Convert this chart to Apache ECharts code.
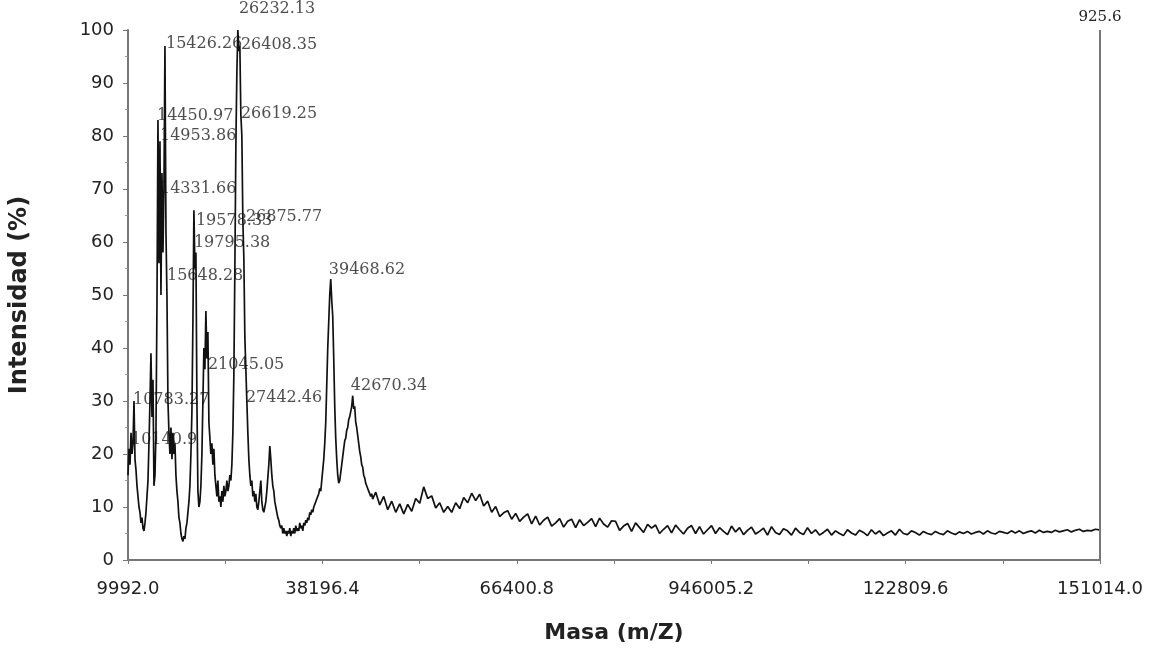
<!DOCTYPE html>
<html>
<head>
<meta charset="utf-8">
<title>Espectro de masas</title>
<script src="https://cdn.jsdelivr.net/npm/echarts@6/dist/echarts.min.js"></script>
<style>
html,body{margin:0;padding:0;background:#fff;}
#main{width:1149px;height:651px;}
</style>
</head>
<body>
<div id="main"></div>
<script>
// eje X (masa): marcas y etiquetas tal como aparecen en la figura
var xMin = 9992.0, xMax = 151014.0;
var xTickValues = [9992.0, 24094.2, 38196.4, 52298.6, 66400.8, 80503.0, 94605.2, 108707.4, 122809.6, 136911.8, 151014.0];
var xLabelValues = [9992.0, 38196.4, 66400.8, 94605.2, 122809.6, 151014.0];
var xLabelTexts = ['9992.0', '38196.4', '66400.8', '946005.2', '122809.6', '151014.0'];

// espectro, zona de picos (masa inicial y paso de muestreo)
var peakStart = 9992, peakStep = 144.9;
var peakIntensity = [
	16, 21, 18, 24, 20, 22, 30, 19, 17, 14,
	12, 10, 9, 7, 8, 6, 5.5, 7, 9, 12,
	15, 22, 30, 39, 27, 34, 14, 16, 24, 48,
	83, 56, 79, 50, 73, 58, 70, 97, 62, 50,
	30, 24, 20, 25, 19, 24, 20, 22, 16, 13,
	11, 8, 7, 5, 4, 3.5, 4.5, 4, 6, 7,
	9, 11, 14, 20, 28, 45, 66, 55, 58, 30,
	13, 10, 11, 14, 20, 30, 40, 36, 47, 38,
	43, 26, 23, 20, 22, 18, 21, 16, 14, 12,
	15, 11, 12, 10, 13, 11, 14, 12, 13, 15,
	13, 14, 16, 15, 18, 24, 35, 55, 78, 92,
	100, 96, 97, 84, 80, 64, 57, 42, 36, 30,
	24, 19, 16, 14, 15, 12, 13, 11, 12.5, 10,
	9.5, 11, 13, 15, 11, 9.5, 9, 10, 11, 13,
	15.5, 18, 21.5, 19, 16, 14, 13, 11, 10, 9,
	8, 7.5, 6.5, 6, 6.5, 5, 6, 5, 5.5, 4.5,
	5.5, 5, 6, 4.5, 5.5, 5, 6, 5, 6.5, 5.5,
	6, 5.5, 7, 6, 6.5, 5.5, 7, 6.5, 7.5, 7,
	8, 7.5, 9, 8.5, 9.5, 9, 10, 10.5, 11, 11.5,
	12, 12.5, 13.5, 13, 15, 17, 19, 22, 26, 33,
	40, 45, 50, 53, 49, 46, 38, 29, 23, 19,
	16, 14.5, 15, 16.5, 18, 19.5, 21, 22.5, 23, 24.5,
	25, 26.5, 27, 28, 29, 31, 28.5, 29, 26, 25,
	23.5, 22, 20.5, 19.5, 18, 17.5, 16, 15.5, 14.5, 14,
	13.5, 13, 12.5, 12, 12.5, 11.5
];

// espectro, cola hasta el final del eje
var tailStart = 45935, tailStep = 580;
var tailIntensity = [
	12.8, 10.4, 12.0, 9.5, 11.1, 9.0, 10.6, 8.7, 10.5, 9.2,
	11.6, 10.7, 13.8, 11.6, 12.1, 9.8, 10.8, 9.0, 10.1, 9.0,
	10.8, 9.7, 11.8, 10.8, 12.6, 11.2, 12.4, 10.2, 11.1, 9.0,
	10.1, 8.2, 8.9, 9.3, 7.7, 8.8, 7.3, 8.1, 8.7, 6.8,
	8.3, 6.6, 7.5, 8.1, 6.4, 7.0, 7.8, 6.2, 7.3, 7.7,
	6.1, 7.6, 6.5, 7.1, 7.8, 6.3, 7.9, 6.8, 6.2, 7.4,
	7.3, 5.6, 6.4, 6.9, 5.4, 7.0, 6.1, 5.2, 6.7, 6.0,
	6.6, 5.0, 5.8, 6.5, 5.1, 6.6, 5.7, 4.9, 6.0, 6.5,
	5.0, 6.3, 4.9, 5.7, 6.5, 5.0, 6.1, 5.4, 4.8, 6.4,
	5.3, 6.1, 4.8, 5.6, 6.2, 4.9, 5.4, 6.0, 4.7, 6.3,
	5.2, 4.8, 5.9, 5.5, 4.7, 6.0, 5.2, 4.8, 6.1, 5.0,
	5.7, 4.7, 5.2, 5.8, 4.7, 5.5, 5.0, 4.6, 5.7, 5.1,
	4.7, 5.6, 5.2, 4.6, 5.7, 4.9, 5.5, 4.6, 5.1, 5.5,
	4.7, 5.8, 5.0, 4.8, 5.5, 5.2, 4.7, 5.4, 5.0, 4.8,
	5.4, 5.0, 4.8, 5.5, 5.1, 4.8, 5.3, 5.0, 5.4, 4.9,
	5.2, 5.4, 4.9, 5.5, 5.1, 4.9, 5.4, 5.2, 5.0, 5.5,
	5.1, 5.5, 5.0, 5.3, 5.5, 5.1, 5.6, 5.2, 5.4, 5.2,
	5.6, 5.3, 5.5, 5.7, 5.3, 5.6, 5.8, 5.4, 5.6, 5.5,
	5.8, 5.7
];

// etiquetas de los picos (texto y punto de anclaje en masa / intensidad)
var peakNames = ['26232.13', '15426.26', '26408.35', '14450.97', '26619.25', '14953.86', '14331.66', '19578.33', '26875.77', '19795.38', '39468.62', '15648.28', '21045.05', '42670.34', '10783.27', '27442.46', '10140.9'];
var labelMass = [26079, 15499, 26369, 14195, 26369, 14630, 14630, 19847, 27094, 19557, 39123, 15644, 21586, 42312, 10717, 27094, 10427];
var labelLevel = [104.0, 97.4, 97.2, 83.8, 84.2, 80.0, 70.0, 64.0, 64.7, 59.8, 54.7, 53.6, 36.8, 32.8, 30.2, 30.6, 22.6];

// línea vertical al final del eje
var endLineText = '925.6';

function buildSpectrum() {
	var pts = [];
	for (var i = 0; i < peakIntensity.length; i++) {
		pts.push([peakStart + i * peakStep, peakIntensity[i]]);
	}
	for (var j = 0; j < tailIntensity.length; j++) {
		pts.push([tailStart + j * tailStep, tailIntensity[j]]);
	}
	return pts;
}

function buildLabels() {
	var arr = [];
	for (var i = 0; i < peakNames.length; i++) {
		arr.push({ value: [labelMass[i], labelLevel[i]], name: peakNames[i] });
	}
	return arr;
}

// texto de la etiqueta del eje X para cada marca
function xLabel(v) {
	var best = 0;
	for (var i = 1; i < xLabelValues.length; i++) {
		if (Math.abs(xLabelValues[i] - v) < Math.abs(xLabelValues[best] - v)) best = i;
	}
	return xLabelTexts[best];
}

var myChart = echarts.init(document.getElementById('main'));
var option = {
	backgroundColor: '#ffffff',
	animation: false,
	grid: { left: 127, right: 49, top: 30, bottom: 91 },
	xAxis: {
		type: 'value',
		min: xMin,
		max: xMax,
		name: 'Masa (m/Z)',
		nameLocation: 'middle',
		nameGap: 62,
		nameTextStyle: { fontFamily: 'DejaVu Sans', fontWeight: 'bold', fontSize: 22, color: '#222' },
		splitLine: { show: false },
		axisLine: { lineStyle: { color: '#777', width: 2 } },
		axisTick: { show: true, length: 4, customValues: xTickValues, lineStyle: { color: '#777', width: 1 } },
		axisLabel: {
			customValues: xLabelValues,
			formatter: xLabel,
			margin: 20,
			fontFamily: 'DejaVu Sans',
			fontSize: 18,
			color: '#222'
		}
	},
	yAxis: {
		type: 'value',
		min: 0,
		max: 100,
		interval: 10,
		name: 'Intensidad (%)',
		nameLocation: 'middle',
		nameGap: 96,
		nameTextStyle: { fontFamily: 'DejaVu Sans', fontWeight: 'bold', fontSize: 24, color: '#222' },
		splitLine: { show: false },
		axisLine: { show: true, lineStyle: { color: '#777', width: 2 } },
		axisTick: { show: true, length: 5, lineStyle: { color: '#777' } },
		minorTick: { show: true, splitNumber: 2, length: 3, lineStyle: { color: '#999' } },
		axisLabel: { margin: 14, fontFamily: 'DejaVu Sans', fontSize: 18, color: '#222' }
	},
	series: [
		{
			name: 'Espectro',
			type: 'line',
			data: buildSpectrum(),
			showSymbol: false,
			symbol: 'none',
			lineStyle: { color: '#111', width: 1.7 },
			markLine: {
				silent: true,
				symbol: ['none', 'none'],
				lineStyle: { color: '#777', width: 2, type: 'solid' },
				label: {
					show: true,
					position: 'end',
					formatter: endLineText,
					fontFamily: 'DejaVu Serif',
					fontSize: 15,
					color: '#222'
				},
				data: [{ xAxis: xMax }]
			}
		},
		{
			name: 'Picos',
			type: 'scatter',
			clip: false,
			symbolSize: 0,
			data: buildLabels(),
			label: {
				show: true,
				position: 'right',
				distance: 0,
				formatter: '{b}',
				fontFamily: 'DejaVu Serif',
				fontSize: 16,
				color: '#222'
			}
		}
	]
};
myChart.setOption(option);
</script>
</body>
</html>
